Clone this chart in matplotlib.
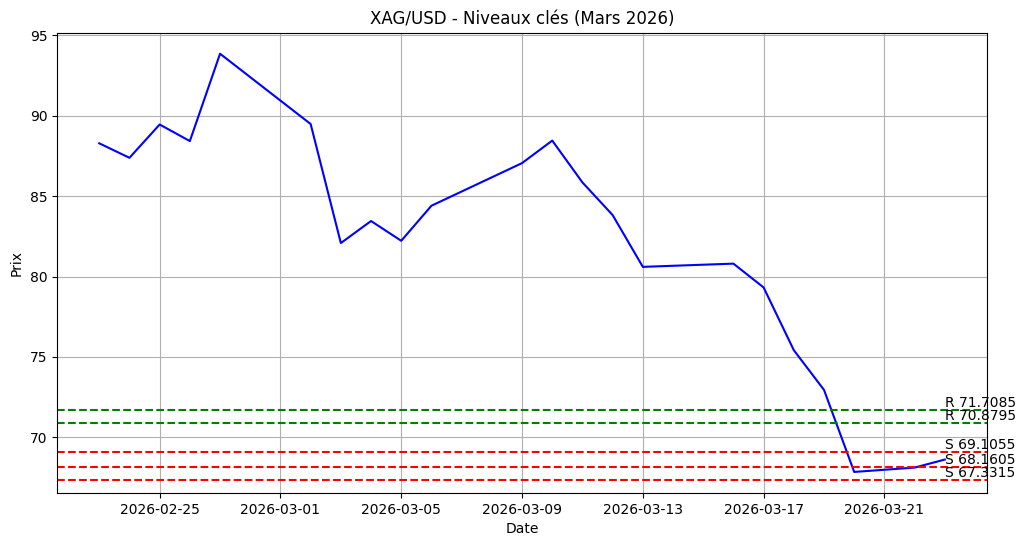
import matplotlib
matplotlib.use('Agg')
import matplotlib.pyplot as plt
import matplotlib.dates as mdates
import numpy as np
import pandas as pd

# price data
dates = ['2026-02-23', '2026-02-24', '2026-02-25', '2026-02-26', '2026-02-27',
         '2026-03-02', '2026-03-03', '2026-03-04', '2026-03-05', '2026-03-06',
         '2026-03-09', '2026-03-10', '2026-03-11', '2026-03-12', '2026-03-13',
         '2026-03-16', '2026-03-17', '2026-03-18', '2026-03-19', '2026-03-20',
         '2026-03-22', '2026-03-23']
prices = [88.28, 87.38, 89.45, 88.42, 93.85,
          89.48, 82.08, 83.45, 82.22, 84.40,
          87.05, 88.45, 85.85, 83.82, 80.60,
          80.80, 79.32, 75.42, 72.95, 67.85,
          68.12, 68.62]

resistances = [71.7085, 70.8795]
supports = [69.1055, 68.1605, 67.3315]

x = pd.to_datetime(dates)

fig = plt.figure(figsize=(10.25, 5.47), dpi=100)
ax = fig.add_subplot(111)
fig.subplots_adjust(left=0.0556, right=0.963, top=0.94, bottom=0.099)

ax.plot(x, prices, color='blue')

for r in resistances:
    ax.axhline(r, color='green', linestyle='--')
    ax.text(x[-1], r, f'R {r}', fontsize=10, va='bottom', ha='left')
for s in supports:
    ax.axhline(s, color='red', linestyle='--')
    ax.text(x[-1], s, f'S {s}', fontsize=10, va='bottom', ha='left')

ax.set_title('XAG/USD - Niveaux clés (Mars 2026)')
ax.set_xlabel('Date')
ax.set_ylabel('Prix')
ax.grid(True)
ax.xaxis.set_major_locator(mdates.DayLocator(bymonthday=[1, 5, 9, 13, 17, 21, 25]))
ax.xaxis.set_major_formatter(mdates.DateFormatter('%Y-%m-%d'))

plt.savefig('out.png', dpi=100)
